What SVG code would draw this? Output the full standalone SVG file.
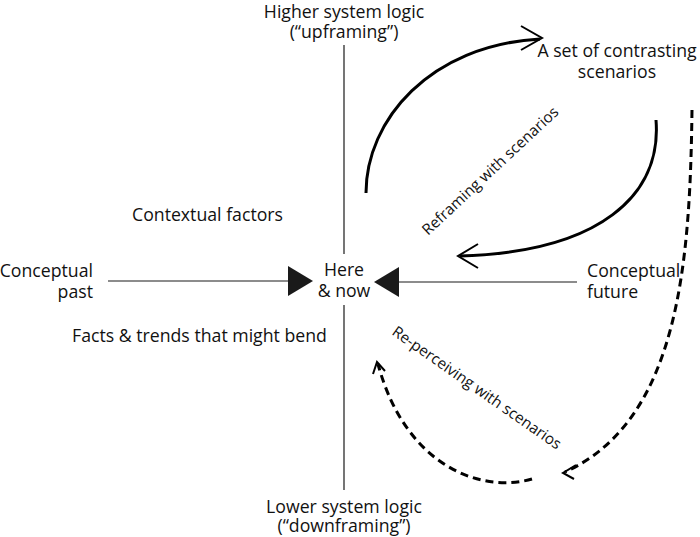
<svg xmlns="http://www.w3.org/2000/svg" width="700" height="537" viewBox="0 0 700 537">
<defs>
<style>
text{font-family:"Open Sans","Noto Sans","Liberation Sans",sans-serif;font-size:17.7px;fill:#111}
.c{text-anchor:middle}
.r{text-anchor:end}
.axis{stroke:#1a1a1a;stroke-width:1.2;fill:none}
.arc{stroke:#000;stroke-width:3;fill:none}
.dash{stroke:#000;stroke-width:3;fill:none;stroke-dasharray:8 5}
.head{stroke:#000;stroke-width:2;fill:none}
.lbl{font-size:15.3px}
</style>
</defs>
<rect width="700" height="537" fill="#fff"/>
<g id="connectors">
<line class="axis" x1="344" y1="45" x2="344" y2="254"/>
<line class="axis" x1="344" y1="305" x2="344" y2="490"/>
<line class="axis" x1="108" y1="281" x2="290" y2="281"/>
<polygon points="288,266 313,281 288,296" fill="#1a1a1a"/>
<line class="axis" x1="398" y1="282" x2="577" y2="282"/>
<polygon points="399,267 374,282 399,297" fill="#1a1a1a"/>
<path class="arc" d="M366,193 C366,120 430,45 540,39"/>
<polyline class="head" points="521,26 542,38 521,50"/>
<path class="arc" d="M656,120 C662,195 600,252 460,256"/>
<polyline class="head" points="478,244 458,256 478,268"/>
<path class="dash" d="M692,110 C690,260 680,420 565,472"/>
<polyline class="head" points="576,465 563,473 574,479"/>
<path class="dash" d="M532,479 C480,494 405,465 378,364"/>
<polyline class="head" points="373,374 377,362 385,371"/>
</g>
<g id="node-higher"><text class="c" x="344" y="18">Higher system logic</text><text class="c" x="344" y="38">(“upframing”)</text></g>
<g id="node-lower"><text class="c" x="344" y="513">Lower system logic</text><text class="c" x="344" y="532">(“downframing”)</text></g>
<g id="node-scenarios"><text class="c" x="617" y="57">A set of contrasting</text><text class="c" x="617" y="78">scenarios</text></g>
<g id="node-here"><text class="c" x="344" y="276">Here</text><text class="c" x="344" y="297">&amp; now</text></g>
<g id="node-past"><text class="r" x="93" y="277">Conceptual</text><text class="r" x="93" y="298">past</text></g>
<g id="node-future"><text x="587" y="277">Conceptual</text><text x="587" y="298">future</text></g>
<g id="node-context"><text x="132" y="221">Contextual factors</text></g>
<g id="node-facts"><text x="72" y="342">Facts &amp; trends that might bend</text></g>
<g id="label-reframing"><text class="lbl" transform="translate(428,236) rotate(-43)">Reframing with scenarios</text></g>
<g id="label-reperceiving"><text class="lbl" transform="translate(391,334) rotate(35)">Re-perceiving with scenarios</text></g>
</svg>
